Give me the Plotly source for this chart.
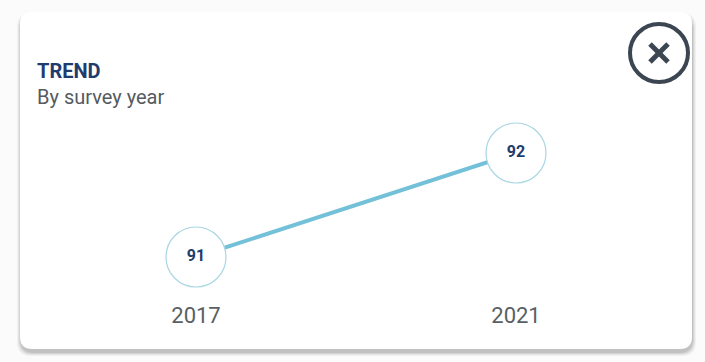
import plotly.graph_objects as go

# Trend values by survey year
years = [2017, 2021]
scores = [91, 92]
year_labels = ["2017", "2021"]

W, H = 705, 362
PLOT_H = 300  # height of plotting area in px (bottom margin holds tick labels)


def px_x(px):
    return px / W


def px_y(py):
    return (PLOT_H - py) / PLOT_H


def rounded_rect(x0, y0, x1, y1, r):
    # path in paper coordinates from pixel corners
    kx, ky = r / W, r / PLOT_H
    X0, X1 = px_x(x0), px_x(x1)
    Y0, Y1 = px_y(y0), px_y(y1)  # Y0 top, Y1 bottom
    return (f"M {X0 + kx},{Y0} L {X1 - kx},{Y0} Q {X1},{Y0} {X1},{Y0 - ky} "
            f"L {X1},{Y1 + ky} Q {X1},{Y1} {X1 - kx},{Y1} "
            f"L {X0 + kx},{Y1} Q {X0},{Y1} {X0},{Y1 + ky} "
            f"L {X0},{Y0 - ky} Q {X0},{Y0} {X0 + kx},{Y0} Z")


fig = go.Figure()
fig.add_trace(go.Scatter(
    x=years, y=scores,
    mode="lines+markers+text",
    line=dict(color="#73c1d8", width=4),
    marker=dict(size=60, color="white", line=dict(color="#a9d6e4", width=1.2)),
    text=[str(v) for v in scores],
    textposition="middle center",
    textfont=dict(family="Roboto, Arial", size=16, color="#1f3c6e", weight="bold"),
    cliponaxis=False,
    hoverinfo="skip",
))

shapes = []
# soft shadow under the card
for i, op in enumerate([0.05, 0.07, 0.09, 0.12]):
    d = 4 - i
    shapes.append(dict(type="path", xref="paper", yref="paper", layer="below",
                       path=rounded_rect(20 - d + 1, 14 - d + 3, 693 + d - 1, 352 + d, 14),
                       fillcolor=f"rgba(60,60,60,{op})", line=dict(width=0)))
# card
shapes.append(dict(type="path", xref="paper", yref="paper", layer="below",
                   path=rounded_rect(20, 12, 692, 349, 12),
                   fillcolor="white", line=dict(width=0)))
# close button
cx, cy, r = 659, 53, 29
shapes.append(dict(type="circle", xref="paper", yref="paper",
                   x0=px_x(cx - r), x1=px_x(cx + r), y0=px_y(cy + r), y1=px_y(cy - r),
                   line=dict(color="#3b4652", width=4), fillcolor="rgba(0,0,0,0)"))
a = 9
for (xa, ya, xb, yb) in [(cx - a, cy - a, cx + a, cy + a), (cx - a, cy + a, cx + a, cy - a)]:
    shapes.append(dict(type="line", xref="paper", yref="paper",
                       x0=px_x(xa), y0=px_y(ya), x1=px_x(xb), y1=px_y(yb),
                       line=dict(color="#3b4652", width=5)))

annotations = [
    dict(text="<b>TREND</b>", xref="paper", yref="paper", x=px_x(35), y=px_y(71),
         xanchor="left", yanchor="middle", showarrow=False,
         font=dict(family="Roboto", size=20, color="#1f3c6e")),
    dict(text="By survey year", xref="paper", yref="paper", x=px_x(35), y=px_y(97),
         xanchor="left", yanchor="middle", showarrow=False,
         font=dict(family="Roboto", size=20, color="#555b61")),
]

fig.update_layout(
    width=W, height=H,
    margin=dict(l=0, r=0, t=0, b=H - PLOT_H),
    paper_bgcolor="#fbfbfb", plot_bgcolor="rgba(0,0,0,0)",
    showlegend=False,
    shapes=shapes, annotations=annotations,
    xaxis=dict(range=[2017 - 196 / 80, 2021 + 189 / 80], tickvals=years, ticktext=year_labels,
               showgrid=False, zeroline=False, showline=False, ticks="",
               tickfont=dict(family="Roboto", size=22, color="#5a5f64"),
               ticklabelstandoff=0, fixedrange=True),
    yaxis=dict(range=[91 - 43 / 104, 91 - 43 / 104 + PLOT_H / 104], visible=False, fixedrange=True),
)

fig.write_html("out.html")
